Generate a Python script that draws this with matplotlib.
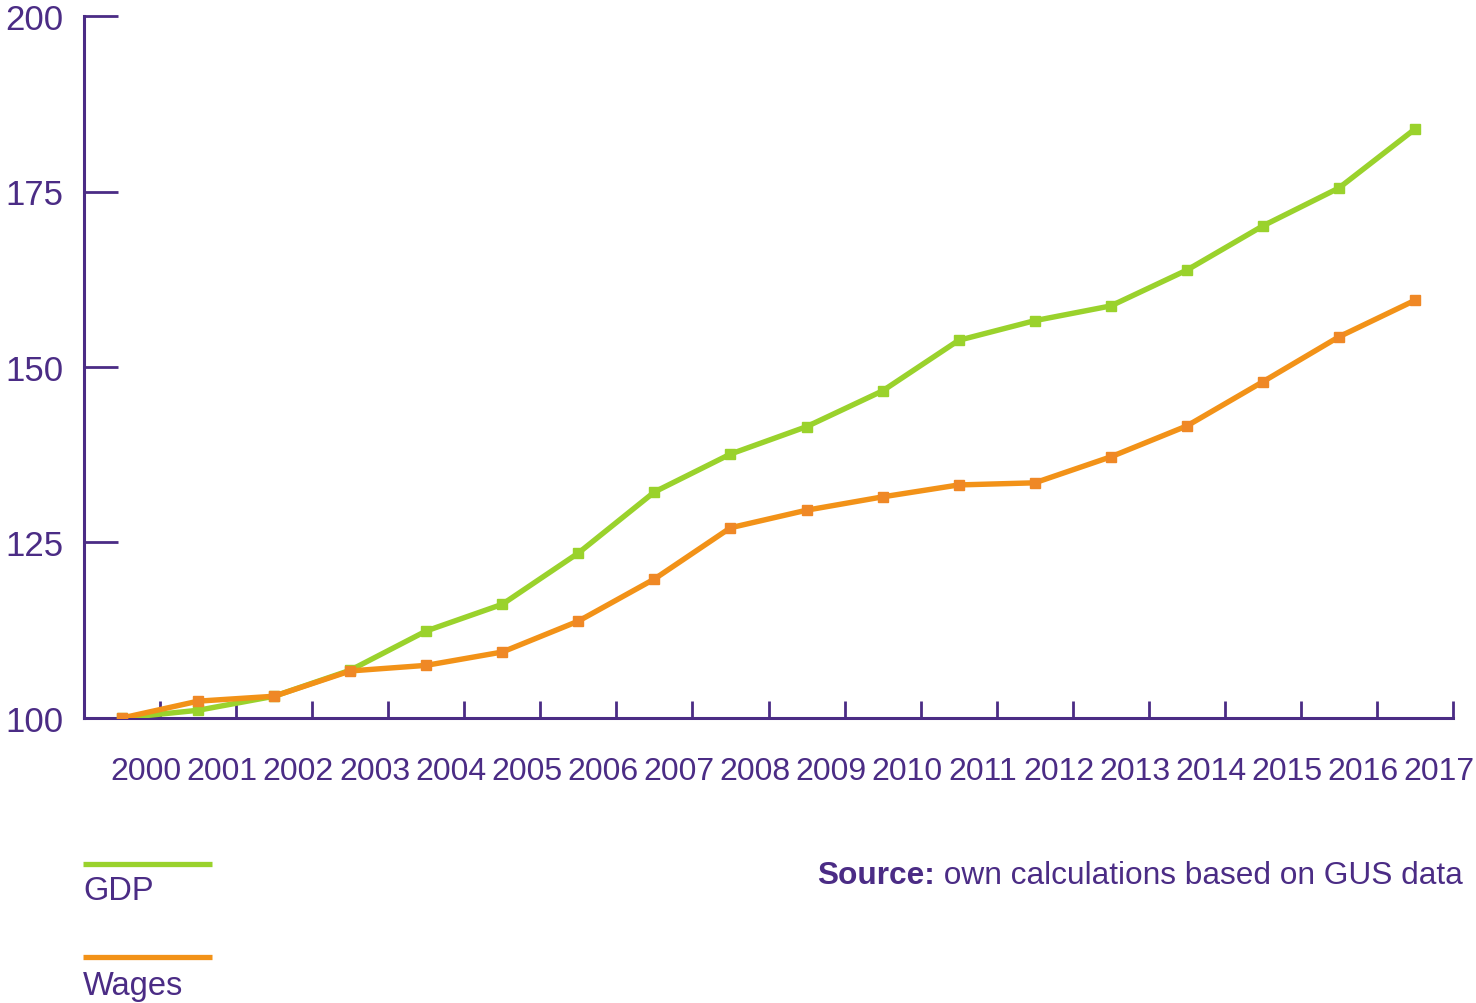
import matplotlib
matplotlib.use("Agg")
import matplotlib.pyplot as plt
from matplotlib.lines import Line2D

plt.rcParams['font.family'] = ['Liberation Sans', 'DejaVu Sans']

years = [str(y) for y in range(2000, 2018)]
gdp = [100, 101.1, 103.1, 106.8, 112.4, 116.2, 123.5, 132.2, 137.6, 141.5,
       146.6, 153.8, 156.6, 158.7, 163.8, 170.1, 175.5, 183.9]
wages = [100, 102.4, 103.1, 106.7, 107.5, 109.4, 113.8, 119.8, 127.1, 129.6,
         131.5, 133.2, 133.5, 137.2, 141.6, 147.9, 154.3, 159.5]
yticks = [100, 125, 150, 175, 200]

PURPLE = '#4B2C85'
GREEN = '#9AD22C'
ORANGE = '#F29218'
ORANGE_MK = '#EF8826'

W, H = 1476, 1004
fig = plt.figure(figsize=(W / 100, H / 100), dpi=100)
ax = fig.add_axes([84 / W, 1 - 719 / H, (1453 - 84) / W, (719 - 17) / H])

x = list(range(len(years)))
ax.plot(x, gdp, color=GREEN, lw=3.9, marker='s', ms=7.2, solid_joinstyle='miter', zorder=3)
ax.plot(x, wages, color=ORANGE, lw=3.9, marker='s', ms=7.2, mfc=ORANGE_MK, mec=ORANGE_MK,
        solid_joinstyle='miter', zorder=4)

ax.set_xlim(-0.5, len(years) - 0.5)
ax.set_ylim(100, 200)

for s in ['top', 'right']:
    ax.spines[s].set_visible(False)
for s in ['left', 'bottom']:
    ax.spines[s].set_color(PURPLE)
    ax.spines[s].set_linewidth(2.2)

ax.set_xticks([i - 0.5 for i in range(len(years) + 1)])
ax.set_xticklabels([])
ax.tick_params(axis='x', which='major', direction='in', length=12, width=2, color=PURPLE)
ax.set_xticks([i + 0.32 for i in x], minor=True)
ax.set_xticklabels(years, minor=True)
ax.tick_params(axis='x', which='minor', length=0, pad=27, labelsize=23, labelcolor=PURPLE)

ax.set_yticks(yticks)
ax.set_yticklabels([str(v) for v in yticks])
ax.tick_params(axis='y', direction='in', length=24.5, width=2, color=PURPLE,
               pad=15, labelsize=25, labelcolor=PURPLE)
for lbl in ax.get_yticklabels():
    lbl.set_horizontalalignment('right')

# legend (manual, stacked)
fig.add_artist(Line2D([83 / W, 212 / W], [1 - 865 / H, 1 - 865 / H], color=GREEN, lw=3.8,
                      solid_capstyle='butt'))
fig.text(83 / W, 1 - 892 / H, 'GDP', color=PURPLE, fontsize=23.5, va='center', ha='left')
fig.add_artist(Line2D([83 / W, 212 / W], [1 - 958 / H, 1 - 958 / H], color=ORANGE, lw=3.8,
                      solid_capstyle='butt'))
fig.text(83 / W, 1 - 987 / H, 'Wages', color=PURPLE, fontsize=23.5, va='center', ha='left')

# source
t2 = fig.text(1463 / W, 1 - 876 / H, ' own calculations based on GUS data', color=PURPLE,
              fontsize=22.8, va='center', ha='right')
r = fig.canvas.get_renderer()
bb = t2.get_window_extent(renderer=r)
fig.text(bb.x0 / W, 1 - 876 / H, 'Source:', color=PURPLE, fontsize=22.8, fontweight='bold',
         va='center', ha='right')

fig.savefig('out.png', dpi=100)
